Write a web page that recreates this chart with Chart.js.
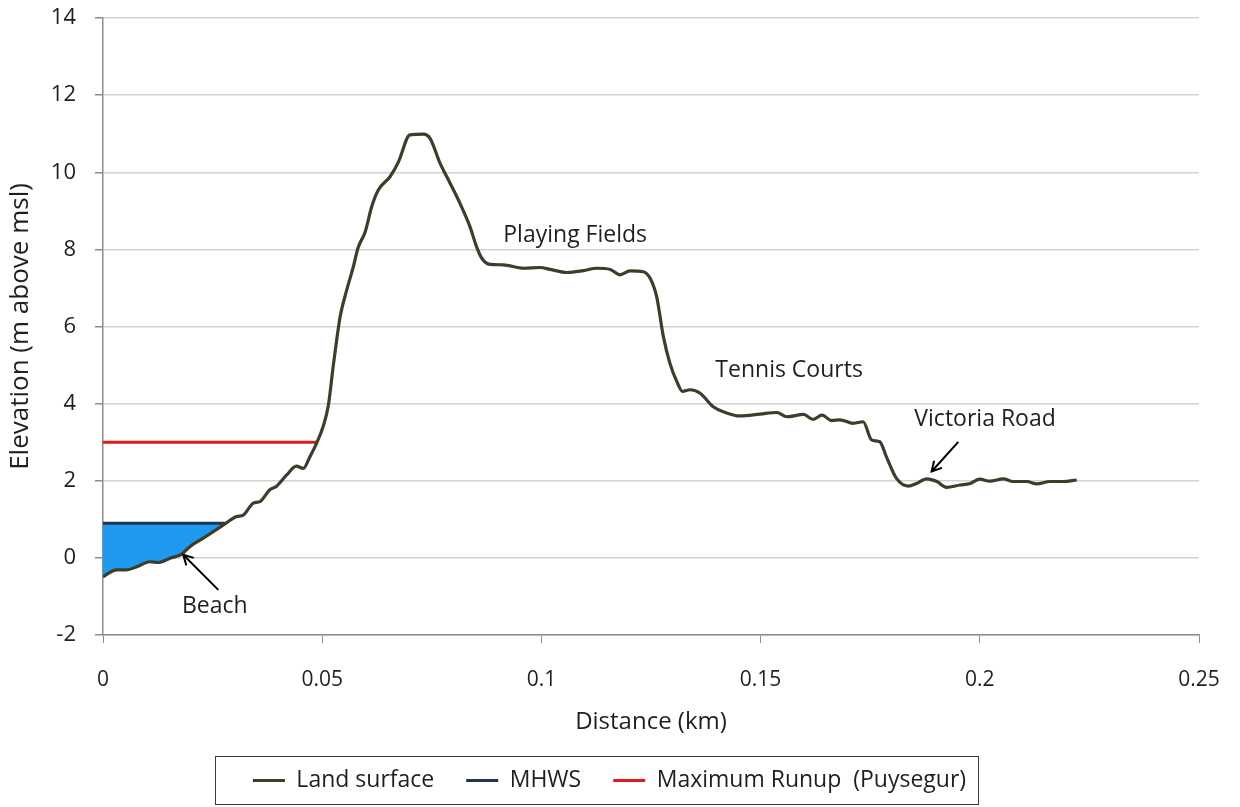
<!DOCTYPE html>
<html>
<head>
<meta charset="utf-8">
<script src="https://cdn.jsdelivr.net/npm/chart.js@4/dist/chart.umd.min.js"></script>
<style>
  html, body { margin: 0; padding: 0; background: #ffffff; }
  #wrap { width: 1240px; height: 807px; }
</style>
</head>
<body>
<div id="wrap"><canvas id="c" width="1240" height="807"></canvas></div>
<script>
// ---- data ----
const distanceKm = [
  0.0000, 0.0031, 0.0054, 0.0077, 0.0107, 0.0126, 0.0153, 0.0179, 0.0198, 0.0229,
  0.0274, 0.0305, 0.0320, 0.0343, 0.0358, 0.0380, 0.0396, 0.0419, 0.0441, 0.0457,
  0.0472, 0.0487, 0.0502, 0.0514, 0.0525, 0.0533, 0.0541, 0.0556, 0.0571, 0.0582,
  0.0598, 0.0613, 0.0628, 0.0655, 0.0674, 0.0700, 0.0731, 0.0746, 0.0769, 0.0792,
  0.0814, 0.0837, 0.0852, 0.0864, 0.0883, 0.0913, 0.0959, 0.0997, 0.1020, 0.1058,
  0.1096, 0.1126, 0.1157, 0.1179, 0.1202, 0.1232, 0.1248, 0.1263, 0.1278, 0.1293,
  0.1309, 0.1322, 0.1339, 0.1362, 0.1392, 0.1415, 0.1453, 0.1499, 0.1537, 0.1560,
  0.1598, 0.1620, 0.1640, 0.1662, 0.1681, 0.1711, 0.1734, 0.1753, 0.1772, 0.1787,
  0.1810, 0.1837, 0.1856, 0.1879, 0.1902, 0.1924, 0.1955, 0.1978, 0.2000, 0.2023,
  0.2054, 0.2076, 0.2107, 0.2130, 0.2160, 0.2190, 0.2221
];
const landElevation = [
  -0.49, -0.31, -0.31, -0.23, -0.10, -0.12, -0.01, 0.09, 0.29, 0.51,
  0.85, 1.07, 1.11, 1.42, 1.46, 1.76, 1.86, 2.15, 2.38, 2.32,
  2.62, 2.97, 3.40, 3.95, 4.96, 5.65, 6.26, 6.95, 7.55, 8.05,
  8.45, 9.11, 9.54, 9.89, 10.27, 10.97, 10.99, 10.88, 10.23, 9.71,
  9.20, 8.59, 8.07, 7.77, 7.61, 7.60, 7.51, 7.53, 7.48, 7.40,
  7.45, 7.51, 7.48, 7.34, 7.44, 7.42, 7.25, 6.77, 5.75, 5.05,
  4.57, 4.32, 4.36, 4.27, 3.92, 3.79, 3.68, 3.73, 3.77, 3.66,
  3.72, 3.59, 3.70, 3.56, 3.58, 3.49, 3.53, 3.06, 3.01, 2.62,
  2.06, 1.86, 1.93, 2.05, 1.98, 1.83, 1.89, 1.93, 2.04, 1.99,
  2.05, 1.98, 1.98, 1.92, 1.98, 1.98, 2.02
];
const mhwsDistance = [0, 0.0278];
const mhwsElevation = [0.9, 0.9];
const runupDistance = [0, 0.0487];
const runupElevation = [3, 3];
const seriesNames = ['Land surface', 'MHWS', 'Maximum Runup  (Puysegur)'];
const xTicks = [0, 0.05, 0.1, 0.15, 0.2, 0.25];
const yTicks = [-2, 0, 2, 4, 6, 8, 10, 12, 14];
const annotations = [
  { text: 'Playing Fields', x: 0.1077, y: 8.37 },
  { text: 'Tennis Courts', x: 0.1565, y: 4.85 },
  { text: 'Victoria Road', x: 0.2012, y: 3.6 },
  { text: 'Beach', x: 0.0255, y: -1.27 }
];
const arrows = [
  { fromX: 0.0263, fromY: -0.83, toX: 0.0183, toY: 0.08 },
  { fromX: 0.1951, fromY: 3.01, toX: 0.1890, toY: 2.24 }
];

// ---- build ----
const toPts = (xs, ys) => xs.map((x, i) => ({ x: x, y: ys[i] }));
const FONT = "'Open Sans', 'DejaVu Sans', sans-serif";
const TXT = '#1f1f1f';

const annotationPlugin = {
  id: 'annot',
  afterDatasetsDraw(chart) {
    const { ctx, scales: { x, y } } = chart;
    ctx.save();
    ctx.fillStyle = TXT;
    ctx.font = '23px ' + FONT;
    ctx.textAlign = 'center';
    ctx.textBaseline = 'middle';
    annotations.forEach(a => {
      ctx.fillText(a.text, x.getPixelForValue(a.x), y.getPixelForValue(a.y));
    });
    ctx.strokeStyle = '#000000';
    ctx.lineWidth = 2;
    arrows.forEach(a => {
      const x1 = x.getPixelForValue(a.fromX), y1 = y.getPixelForValue(a.fromY);
      const x2 = x.getPixelForValue(a.toX), y2 = y.getPixelForValue(a.toY);
      ctx.beginPath();
      ctx.moveTo(x1, y1); ctx.lineTo(x2, y2); ctx.stroke();
      const ang = Math.atan2(y2 - y1, x2 - x1);
      const L = 11, W = 0.5;
      ctx.beginPath();
      ctx.moveTo(x2 - L * Math.cos(ang - W), y2 - L * Math.sin(ang - W));
      ctx.lineTo(x2, y2);
      ctx.lineTo(x2 - L * Math.cos(ang + W), y2 - L * Math.sin(ang + W));
      ctx.stroke();
    });
    ctx.restore();
  },
  afterDraw(chart) {
    const lg = chart.legend;
    if (!lg || !lg.legendHitBoxes || !lg.legendHitBoxes.length) return;
    const hb = lg.legendHitBoxes;
    const first = hb[0], last = hb[hb.length - 1];
    const left = first.left - 38, right = last.left + last.width + 12;
    const top = first.top - 13, bottom = first.top + first.height + 12;
    const ctx = chart.ctx;
    ctx.save();
    ctx.strokeStyle = '#3a3a3a';
    ctx.lineWidth = 1;
    ctx.strokeRect(Math.round(left) + 0.5, Math.round(top) + 0.5, Math.round(right - left), Math.round(bottom - top));
    ctx.restore();
  }
};

new Chart(document.getElementById('c'), {
  type: 'line',
  data: {
    datasets: [
      {
        label: seriesNames[0],
        data: toPts(distanceKm, landElevation),
        borderColor: '#3d3d2b',
        backgroundColor: '#3d3d2b',
        borderWidth: 3.2,
        pointRadius: 0,
        cubicInterpolationMode: 'monotone',
        fill: false
      },
      {
        label: seriesNames[1],
        data: toPts(mhwsDistance, mhwsElevation),
        borderColor: '#1d3552',
        backgroundColor: '#1e9bf0',
        borderWidth: 3,
        pointRadius: 0,
        fill: { target: 0 }
      },
      {
        label: seriesNames[2],
        data: toPts(runupDistance, runupElevation),
        borderColor: '#df1a1f',
        backgroundColor: '#df1a1f',
        borderWidth: 3,
        pointRadius: 0,
        fill: false
      }
    ]
  },
  options: {
    responsive: false,
    animation: false,
    devicePixelRatio: 1,
    layout: { padding: { left: 20, right: 41, top: 18, bottom: 5 } },
    plugins: {
      tooltip: { enabled: false },
      legend: {
        position: 'bottom',
        labels: {
          font: { family: FONT, size: 23 },
          color: TXT,
          boxWidth: 32,
          boxHeight: 3,
          padding: 32,
          generateLabels(chart) {
            return chart.data.datasets.map((ds, i) => ({
              text: ds.label,
              fillStyle: ds.borderColor,
              strokeStyle: ds.borderColor,
              lineWidth: 0,
              hidden: false,
              datasetIndex: i,
              fontColor: TXT
            }));
          }
        }
      }
    },
    scales: {
      x: {
        type: 'linear',
        min: 0,
        max: 0.25,
        afterBuildTicks(scale) { scale.ticks = xTicks.map(v => ({ value: v })); },
        afterFit(scale) { scale.height = 102; scale.paddingLeft = 0; scale.paddingRight = 0; },
        ticks: {
          font: { family: FONT, size: 21 },
          color: TXT,
          padding: 24,
          maxRotation: 0,
          callback: v => String(v)
        },
        grid: { drawOnChartArea: false, drawTicks: true, tickLength: 8, tickColor: '#8c8c8c' },
        border: { color: '#8c8c8c', width: 1.5 },
        title: {
          display: true,
          text: 'Distance (km)',
          font: { family: FONT, size: 24 },
          color: TXT,
          padding: { top: 0, bottom: 0 }
        }
      },
      y: {
        type: 'linear',
        min: -2,
        max: 14,
        afterBuildTicks(scale) { scale.ticks = yTicks.map(v => ({ value: v })); },
        afterFit(scale) { scale.width = 83; scale.paddingTop = 0; scale.paddingBottom = 0; },
        ticks: {
          font: { family: FONT, size: 22 },
          color: TXT,
          padding: 19,
          callback: v => String(v)
        },
        grid: { color: '#d2d2d2', lineWidth: 1.5, drawTicks: true, tickLength: 8, tickColor: '#8c8c8c' },
        border: { color: '#8c8c8c', width: 1.5 },
        title: {
          display: true,
          text: 'Elevation (m above msl)',
          font: { family: FONT, size: 26 },
          color: TXT,
          padding: { top: -15, bottom: 0 }
        }
      }
    }
  },
  plugins: [annotationPlugin]
});
</script>
</body>
</html>
